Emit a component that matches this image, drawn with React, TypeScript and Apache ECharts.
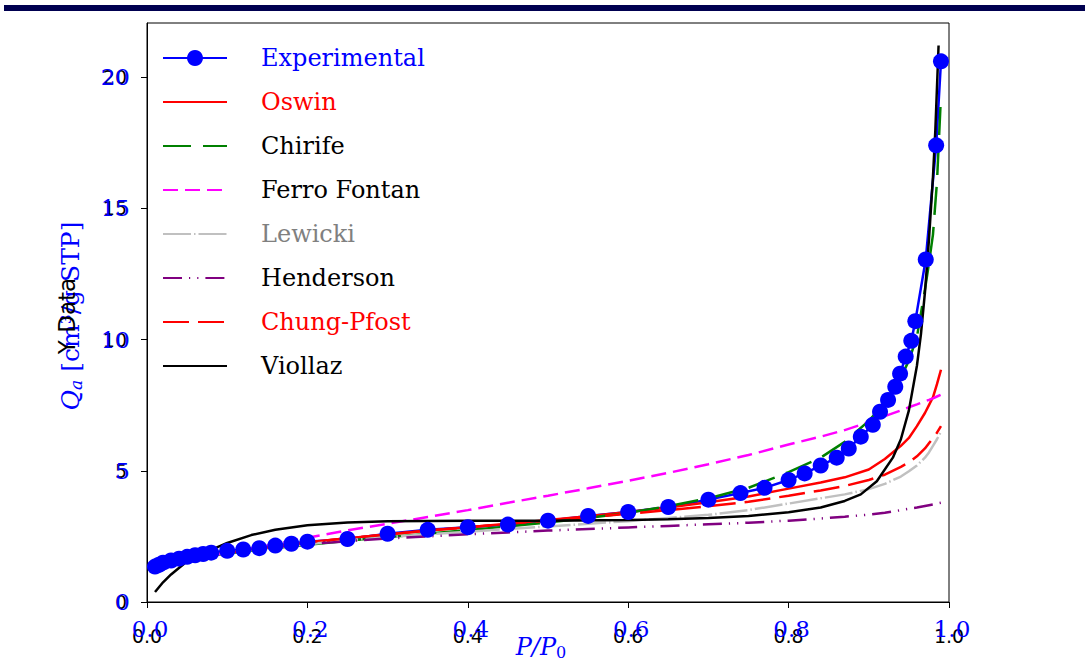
import React, { useEffect, useRef } from "react";
import * as echarts from "echarts";

// ---- data ----
const xTicks = [0, 0.2, 0.4, 0.6, 0.8, 1.0];
const yTicks = [0, 5, 10, 15, 20];

const expP = [0.01, 0.015, 0.02, 0.03, 0.04, 0.05, 0.06, 0.07, 0.08, 0.1, 0.12, 0.14, 0.16, 0.18, 0.2, 0.25, 0.3, 0.35, 0.4, 0.45, 0.5, 0.55, 0.6, 0.65, 0.7, 0.74, 0.77, 0.8, 0.82, 0.84, 0.86, 0.875, 0.89, 0.905, 0.914, 0.924, 0.933, 0.939, 0.946, 0.953, 0.958, 0.971, 0.984, 0.99];
const expQ = [1.35, 1.42, 1.5, 1.58, 1.65, 1.72, 1.78, 1.83, 1.88, 1.95, 2.0, 2.05, 2.15, 2.22, 2.3, 2.4, 2.6, 2.75, 2.85, 2.95, 3.1, 3.28, 3.43, 3.62, 3.9, 4.15, 4.35, 4.65, 4.9, 5.2, 5.5, 5.85, 6.3, 6.75, 7.25, 7.7, 8.2, 8.7, 9.35, 9.95, 10.7, 13.05, 17.4, 20.6];

const modelP = [0.01, 0.02, 0.04, 0.06, 0.08, 0.1, 0.15, 0.2, 0.25, 0.3, 0.35, 0.4, 0.45, 0.5, 0.55, 0.6, 0.65, 0.7, 0.75, 0.8, 0.84, 0.87, 0.9, 0.92, 0.94, 0.95, 0.96, 0.97, 0.975, 0.98, 0.985, 0.99];
const oswinQ = [1.25, 1.4, 1.58, 1.7, 1.8, 1.9, 2.1, 2.28, 2.43, 2.57, 2.72, 2.85, 2.98, 3.12, 3.27, 3.43, 3.6, 3.8, 4.02, 4.32, 4.55, 4.75, 5.05, 5.45, 5.95, 6.25, 6.7, 7.2, 7.5, 7.8, 8.3, 8.85];
const chirifeQ = [1.3, 1.42, 1.57, 1.68, 1.77, 1.85, 2.02, 2.18, 2.33, 2.47, 2.6, 2.74, 2.88, 3.03, 3.2, 3.4, 3.65, 3.95, 4.35, 4.95, 5.5, 6.1, 6.9, 7.6, 8.55, 9.2, 10.1, 11.9, 12.9, 14.0, 16.0, 19.3];
const ferroQ = [1.15, 1.3, 1.5, 1.65, 1.77, 1.88, 2.15, 2.45, 2.73, 2.98, 3.24, 3.5, 3.78, 4.05, 4.33, 4.62, 4.92, 5.25, 5.6, 6.0, 6.3, 6.55, 6.85, 7.08, 7.3, 7.42, 7.53, 7.65, 7.7, 7.76, 7.83, 7.9];
const lewickiQ = [1.3, 1.42, 1.58, 1.7, 1.8, 1.88, 2.05, 2.2, 2.35, 2.47, 2.58, 2.68, 2.78, 2.88, 2.98, 3.08, 3.2, 3.32, 3.5, 3.75, 3.95, 4.1, 4.3, 4.5, 4.78, 4.98, 5.2, 5.5, 5.7, 5.95, 6.2, 6.5];
const hendersonQ = [1.25, 1.4, 1.6, 1.72, 1.82, 1.9, 2.07, 2.2, 2.32, 2.42, 2.5, 2.58, 2.65, 2.72, 2.78, 2.84, 2.9, 2.96, 3.02, 3.1, 3.18, 3.25, 3.33, 3.4, 3.5, 3.55, 3.6, 3.66, 3.69, 3.72, 3.75, 3.78];
const chungQ = [1.15, 1.32, 1.52, 1.66, 1.77, 1.87, 2.08, 2.27, 2.43, 2.58, 2.72, 2.85, 2.98, 3.1, 3.23, 3.36, 3.5, 3.65, 3.82, 4.05, 4.25, 4.42, 4.65, 4.85, 5.15, 5.32, 5.55, 5.85, 6.05, 6.25, 6.45, 6.7];
const viollazP = [0.01, 0.02, 0.03, 0.05, 0.07, 0.1, 0.13, 0.16, 0.2, 0.25, 0.3, 0.4, 0.5, 0.6, 0.65, 0.7, 0.75, 0.8, 0.84, 0.87, 0.89, 0.91, 0.93, 0.94, 0.95, 0.96, 0.965, 0.97, 0.975, 0.98, 0.983, 0.987];
const viollazQ = [0.38, 0.75, 1.05, 1.55, 1.85, 2.25, 2.55, 2.75, 2.92, 3.03, 3.08, 3.1, 3.1, 3.12, 3.15, 3.2, 3.28, 3.42, 3.6, 3.85, 4.1, 4.6, 5.5, 6.2, 7.3, 9.0, 10.2, 11.8, 13.8, 16.2, 18.0, 21.2];

const pair = (xs: number[], ys: number[]) => ys.map((y, i) => [xs[i], y]);

const SERIF = "DejaVu Serif";
const SANS = "DejaVu Sans";

export default function App() {
  const ref = useRef<HTMLDivElement>(null);
  useEffect(() => {
    if (!ref.current) return;
    const chart = echarts.init(ref.current, null, { renderer: "svg" });
    const line = (name: string, data: number[][], color: string, type: any, width = 2.5) => ({
      name,
      type: "line",
      data,
      symbol: "none",
      smooth: false,
      lineStyle: { color, width, type },
      itemStyle: { color },
      emphasis: { disabled: true },
    });
    const hide = { opacity: 0 };
    chart.setOption({
      animation: false,
      backgroundColor: "#ffffff",
      grid: {
        left: 147,
        right: 136,
        top: 23,
        bottom: 62,
        show: true,
        borderColor: "#000",
        borderWidth: 1,
        backgroundColor: "transparent",
      },
      legend: {
        orient: "vertical",
        left: 162,
        top: 44,
        padding: 0,
        itemWidth: 64,
        itemHeight: 20,
        itemGap: 16,
        selectedMode: false,
        textStyle: {
          fontFamily: SERIF,
          fontSize: 24,
          color: "#000",
          lineHeight: 28,
          padding: [0, 0, 0, 29],
        },
        data: [
          { name: "Experimental", textStyle: { color: "#0000ff" } },
          { name: "Oswin", textStyle: { color: "#ff0000" }, itemStyle: hide },
          { name: "Chirife", itemStyle: hide },
          { name: "Ferro Fontan", itemStyle: hide },
          { name: "Lewicki", textStyle: { color: "#808080" }, itemStyle: hide },
          { name: "Henderson", itemStyle: hide },
          { name: "Chung-Pfost", textStyle: { color: "#ff0000" }, itemStyle: hide },
          { name: "Viollaz", itemStyle: hide },
        ],
      },
      xAxis: [
        {
          type: "value",
          min: 0,
          max: 1,
          interval: 0.2,
          position: "bottom",
          axisLine: { show: true, lineStyle: { color: "#000", width: 1 } },
          axisTick: { show: true, length: 6, lineStyle: { color: "#000" }, customValues: xTicks },
          splitLine: { show: false },
          axisLabel: {
            color: "#000",
            fontFamily: SANS,
            fontSize: 19,
            margin: 24,
            customValues: xTicks,
            formatter: (v: number) => v.toFixed(1),
          },
        },
        {
          type: "value",
          min: 0,
          max: 1,
          interval: 0.2,
          position: "bottom",
          axisLine: { show: false },
          axisTick: { show: false },
          splitLine: { show: false },
          axisLabel: {
            color: "#0000ff",
            fontFamily: SERIF,
            fontSize: 23,
            margin: 15,
            padding: [0, 0, 0, 6],
            customValues: xTicks,
            formatter: (v: number) => v.toFixed(1),
          },
        },
      ],
      yAxis: [
        {
          type: "value",
          min: 0,
          max: 22.06,
          interval: 5,
          position: "left",
          axisLine: { show: true, lineStyle: { color: "#000", width: 1 } },
          axisTick: { show: true, length: 6, lineStyle: { color: "#000" }, customValues: yTicks },
          splitLine: { show: false },
          axisLabel: {
            color: "#000",
            fontFamily: SANS,
            fontSize: 19,
            margin: 20,
            customValues: yTicks,
            formatter: (v: number) => String(v),
          },
        },
        {
          type: "value",
          min: 0,
          max: 22.06,
          interval: 5,
          position: "left",
          axisLine: { show: false },
          axisTick: { show: false },
          splitLine: { show: false },
          axisLabel: {
            color: "#0000ff",
            fontFamily: SERIF,
            fontSize: 23,
            margin: 17,
            customValues: yTicks,
            formatter: (v: number) => String(v),
          },
        },
      ],
      graphic: [
        { type: "rect", shape: { x: 4, y: 5, width: 1081, height: 6 }, style: { fill: "#000050" }, silent: true },
        {
          type: "text",
          x: 70,
          y: 316,
          rotation: Math.PI / 2,
          style: {
            text: "{i|Q}{s|a} [cm³/g STP]",
            align: "center",
            verticalAlign: "middle",
            fill: "#0000ff",
            font: `25px ${SERIF}`,
            rich: {
              i: { fontFamily: SERIF, fontSize: 25, fontStyle: "italic", fill: "#0000ff" },
              s: { fontFamily: SERIF, fontSize: 17, fontStyle: "italic", fill: "#0000ff", verticalAlign: "bottom", padding: [11, 0, 0, 0] },
            },
          },
        },
        {
          type: "text",
          x: 67,
          y: 316,
          rotation: Math.PI / 2,
          style: { text: "Y Data", align: "center", verticalAlign: "middle", fill: "#000", font: `23px ${SANS}` },
        },
        {
          type: "text",
          x: 541,
          y: 647,
          style: {
            text: "{i|P/P}{s|0}",
            align: "center",
            verticalAlign: "middle",
            fill: "#0000ff",
            font: `24px ${SERIF}`,
            rich: {
              i: { fontFamily: SERIF, fontSize: 24, fontStyle: "italic", fill: "#0000ff" },
              s: { fontFamily: SERIF, fontSize: 16, fill: "#0000ff", verticalAlign: "bottom", padding: [11, 0, 0, 0] },
            },
          },
        },
      ],
      series: [
        {
          name: "Experimental",
          type: "line",
          data: pair(expP, expQ),
          symbol: "circle",
          symbolSize: 16,
          showSymbol: true,
          lineStyle: { color: "#0000ff", width: 2.5 },
          itemStyle: { color: "#0000ff" },
          emphasis: { disabled: true },
        },
        line("Oswin", pair(modelP, oswinQ), "#ff0000", "solid"),
        line("Chirife", pair(modelP, chirifeQ), "#008000", [28, 12]),
        line("Ferro Fontan", pair(modelP, ferroQ), "#ff00ff", [15, 7]),
        line("Lewicki", pair(modelP, lewickiQ), "#c0c0c0", [28, 3, 1.5, 3]),
        line("Henderson", pair(modelP, hendersonQ), "#800080", [19, 7, 1.2, 7, 1.2, 7]),
        line("Chung-Pfost", pair(modelP, chungQ), "#ff0000", [26, 9]),
        line("Viollaz", pair(viollazP, viollazQ), "#000000", "solid"),
      ],
    });
    return () => chart.dispose();
  }, []);
  return (
    <div
      ref={ref}
      style={{ position: "absolute", left: 0, top: 0, width: 1085, height: 664, background: "#fff" }}
    />
  );
}
